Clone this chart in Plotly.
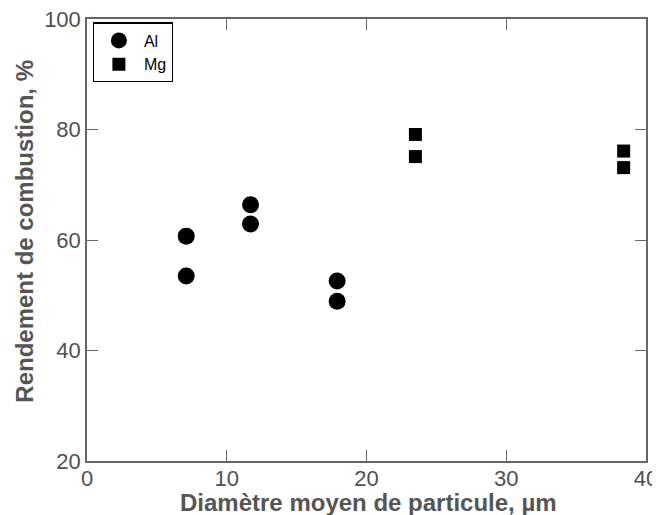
import plotly.graph_objects as go

al_x = [7.1, 7.1, 11.7, 11.7, 17.9, 17.9]
al_y = [60.7, 53.5, 66.4, 62.9, 52.6, 48.9]
mg_x = [23.5, 23.5, 38.4, 38.4]
mg_y = [79.1, 75.1, 76.1, 73.1]

x_ticks = [0, 10, 20, 30, 40]
y_ticks = [20, 40, 60, 80, 100]

x_title = "<b>Diamètre moyen de particule, µm</b>"
y_title = "<b>Rendement de combustion, %</b>"

FONT = "Liberation Sans, Arial"

fig = go.Figure()
fig.add_trace(go.Scatter(x=al_x, y=al_y, mode="markers", name="Al",
                         marker=dict(symbol="circle", size=17, color="black")))
fig.add_trace(go.Scatter(x=mg_x, y=mg_y, mode="markers", name="Mg",
                         marker=dict(symbol="square", size=13, color="black")))

axis_common = dict(showline=True, linecolor="#666666", linewidth=1.5, mirror="ticks",
                   ticks="inside", ticklen=11, tickcolor="#666666", tickwidth=1.2,
                   showgrid=False, zeroline=False, automargin=False,
                   ticklabeloverflow="allow",
                   tickfont=dict(family=FONT, size=22, color="#505050"))

fig.update_xaxes(range=[0, 40], tickvals=x_ticks, ticktext=[str(v) for v in x_ticks],
                 ticklabelstandoff=-3, **axis_common)
fig.update_yaxes(range=[20, 100], tickvals=y_ticks, ticktext=[str(v) for v in y_ticks],
                 **axis_common)

fig.add_annotation(text=x_title, xref="paper", yref="paper", x=0.504, y=-0.093,
                   xanchor="center", yanchor="middle", showarrow=False,
                   font=dict(family=FONT, size=24, color="#555555"))
fig.add_annotation(text=y_title, xref="paper", yref="paper", x=-0.1108, y=0.519,
                   xanchor="center", yanchor="middle", showarrow=False, textangle=-90,
                   font=dict(family=FONT, size=24, color="#555555"))

fig.update_layout(
    width=652, height=507,
    margin=dict(l=79, r=13.5, t=11, b=54.3, pad=0),
    plot_bgcolor="white", paper_bgcolor="white",
    legend=dict(x=0.0102, y=0.9925, xanchor="left", yanchor="top",
                bordercolor="black", borderwidth=1.2, bgcolor="white",
                font=dict(family=FONT, size=16, color="black"),
                itemsizing="trace", itemwidth=40, tracegroupgap=0),
    showlegend=True,
)

fig.write_html("out.html")
